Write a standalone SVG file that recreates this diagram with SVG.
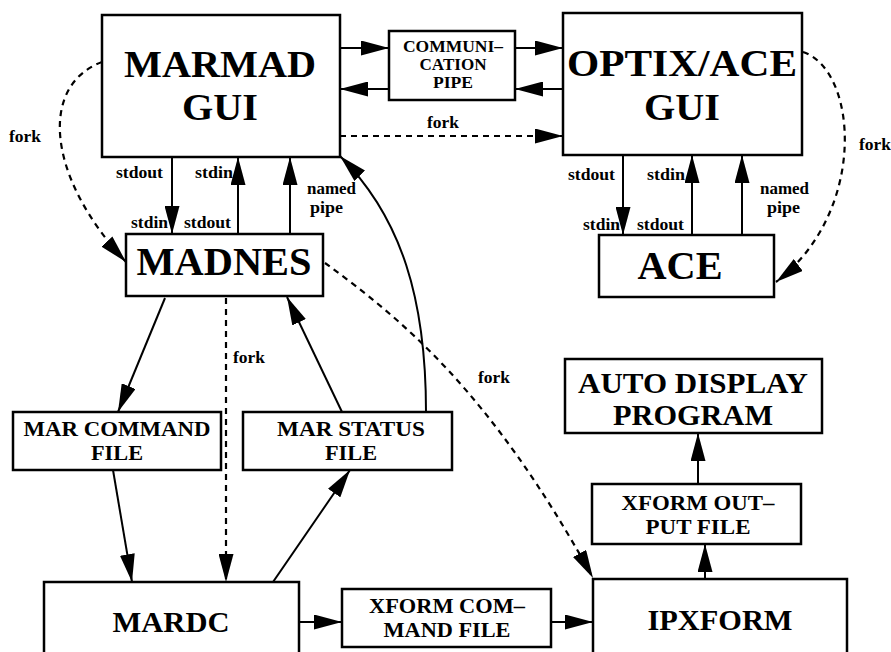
<svg xmlns="http://www.w3.org/2000/svg" width="891" height="652" viewBox="0 0 891 652" font-family="'Liberation Serif', 'Times New Roman', serif" font-weight="bold">
<style>
text{fill:#000}
.box{fill:#fff;stroke:#000;stroke-width:2.5}
.c{text-anchor:middle}
.ln{fill:none;stroke:#000;stroke-width:2;marker-end:url(#ah)}
.dash{fill:none;stroke:#000;stroke-width:2.2;stroke-dasharray:6 5;marker-end:url(#ah)}
</style>
<defs>
<marker id="ah" viewBox="0 0 28 15" markerWidth="28" markerHeight="15" refX="28" refY="7.5" orient="auto" markerUnits="userSpaceOnUse">
<path d="M0,0 L28,7.5 L0,15 z" fill="#000"/>
</marker>
</defs>
<rect width="891" height="652" fill="#fff"/>

<g id="connectors" font-size="17">
<line class="ln" x1="340" y1="48" x2="389" y2="48"/>
<line class="ln" x1="389" y1="89" x2="340" y2="89"/>
<line class="ln" x1="515" y1="48" x2="563" y2="48"/>
<line class="ln" x1="563" y1="89" x2="515" y2="89"/>
<line class="dash" x1="340" y1="136" x2="563" y2="136"/>
<text x="427" y="128" textLength="32" lengthAdjust="spacingAndGlyphs">fork</text>

<path class="dash" d="M102,62 C40,85 45,175 126,262"/>
<text x="9" y="142" textLength="32" lengthAdjust="spacingAndGlyphs">fork</text>

<line class="ln" x1="172" y1="157" x2="172" y2="234"/>
<line class="ln" x1="238" y1="234" x2="238" y2="157"/>
<line class="ln" x1="290" y1="234" x2="290" y2="157"/>
<text x="116" y="178" textLength="47" lengthAdjust="spacingAndGlyphs">stdout</text>
<text x="195" y="178" textLength="38" lengthAdjust="spacingAndGlyphs">stdin</text>
<text x="307" y="194" textLength="49" lengthAdjust="spacingAndGlyphs">named</text>
<text x="310" y="213" textLength="33" lengthAdjust="spacingAndGlyphs">pipe</text>
<text x="131" y="228" textLength="37" lengthAdjust="spacingAndGlyphs">stdin</text>
<text x="184" y="228" textLength="47" lengthAdjust="spacingAndGlyphs">stdout</text>

<line class="ln" x1="623" y1="155" x2="623" y2="235"/>
<line class="ln" x1="692" y1="235" x2="692" y2="155"/>
<line class="ln" x1="742" y1="235" x2="742" y2="155"/>
<text x="568" y="180" textLength="47" lengthAdjust="spacingAndGlyphs">stdout</text>
<text x="647" y="180" textLength="38" lengthAdjust="spacingAndGlyphs">stdin</text>
<text x="760" y="194" textLength="49" lengthAdjust="spacingAndGlyphs">named</text>
<text x="767" y="213" textLength="33" lengthAdjust="spacingAndGlyphs">pipe</text>
<text x="583" y="230" textLength="37" lengthAdjust="spacingAndGlyphs">stdin</text>
<text x="637" y="230" textLength="47" lengthAdjust="spacingAndGlyphs">stdout</text>

<path class="dash" d="M803,52 C858,70 868,212 776,282"/>
<text x="859" y="150" textLength="32" lengthAdjust="spacingAndGlyphs">fork</text>

<line class="ln" x1="165" y1="298" x2="118" y2="412"/>
<line class="ln" x1="342" y1="412" x2="287" y2="297"/>
<line class="dash" x1="226" y1="298" x2="226" y2="582"/>
<text x="233" y="363" textLength="32" lengthAdjust="spacingAndGlyphs">fork</text>

<path class="ln" d="M426,412 C426,300 402,218 340,156"/>

<path class="dash" d="M325,263 C400,318 490,390 593,578"/>
<text x="478" y="383" textLength="32" lengthAdjust="spacingAndGlyphs">fork</text>

<line class="ln" x1="113" y1="470" x2="132" y2="582"/>
<line class="ln" x1="273" y1="582" x2="350" y2="470"/>

<line class="ln" x1="299" y1="622" x2="342" y2="622"/>
<line class="ln" x1="551" y1="622" x2="593" y2="622"/>
<line class="ln" x1="705" y1="579" x2="705" y2="544"/>
<line class="ln" x1="698" y1="484" x2="698" y2="433"/>
</g>

<g id="marmad-gui" font-size="38">
<rect class="box" x="102" y="15" width="238" height="142"/>
<text class="c" x="220" y="77" textLength="192" lengthAdjust="spacingAndGlyphs">MARMAD</text>
<text class="c" x="220" y="120" textLength="76" lengthAdjust="spacingAndGlyphs">GUI</text>
</g>

<g id="communication-pipe" font-size="16">
<rect class="box" x="389" y="31" width="126" height="69"/>
<text class="c" x="453" y="52" textLength="100" lengthAdjust="spacingAndGlyphs">COMMUNI–</text>
<text class="c" x="453" y="70" textLength="67" lengthAdjust="spacingAndGlyphs">CATION</text>
<text class="c" x="453" y="88" textLength="40" lengthAdjust="spacingAndGlyphs">PIPE</text>
</g>

<g id="optix-ace-gui" font-size="38">
<rect class="box" x="563" y="13" width="239" height="142"/>
<text class="c" x="682" y="76" textLength="230" lengthAdjust="spacingAndGlyphs">OPTIX/ACE</text>
<text class="c" x="682" y="120" textLength="76" lengthAdjust="spacingAndGlyphs">GUI</text>
</g>

<g id="madnes" font-size="40">
<rect class="box" x="126" y="234" width="197" height="62"/>
<text class="c" x="224" y="275" textLength="175" lengthAdjust="spacingAndGlyphs">MADNES</text>
</g>

<g id="ace" font-size="40">
<rect class="box" x="599" y="235" width="175" height="62"/>
<text class="c" x="680" y="279" textLength="85" lengthAdjust="spacingAndGlyphs">ACE</text>
</g>

<g id="mar-command-file" font-size="21">
<rect class="box" x="13" y="412" width="208" height="58"/>
<text class="c" x="117" y="436" textLength="187" lengthAdjust="spacingAndGlyphs">MAR COMMAND</text>
<text class="c" x="117" y="460" textLength="52" lengthAdjust="spacingAndGlyphs">FILE</text>
</g>

<g id="mar-status-file" font-size="21">
<rect class="box" x="243" y="412" width="209" height="58"/>
<text class="c" x="351" y="436" textLength="148" lengthAdjust="spacingAndGlyphs">MAR STATUS</text>
<text class="c" x="351" y="460" textLength="52" lengthAdjust="spacingAndGlyphs">FILE</text>
</g>

<g id="auto-display-program" font-size="28.5">
<rect class="box" x="565" y="359" width="257" height="74"/>
<text class="c" x="693" y="393" textLength="230" lengthAdjust="spacingAndGlyphs">AUTO DISPLAY</text>
<text class="c" x="693" y="425" textLength="160" lengthAdjust="spacingAndGlyphs">PROGRAM</text>
</g>

<g id="xform-output-file" font-size="21">
<rect class="box" x="592" y="484" width="209" height="60"/>
<text class="c" x="698" y="510" textLength="153" lengthAdjust="spacingAndGlyphs">XFORM OUT–</text>
<text class="c" x="698" y="534" textLength="105" lengthAdjust="spacingAndGlyphs">PUT FILE</text>
</g>

<g id="mardc" font-size="30">
<rect class="box" x="44" y="582" width="255" height="80"/>
<text class="c" x="171" y="632" textLength="117" lengthAdjust="spacingAndGlyphs">MARDC</text>
</g>

<g id="xform-command-file" font-size="21">
<rect class="box" x="342" y="589" width="209" height="58"/>
<text class="c" x="447" y="613" textLength="156" lengthAdjust="spacingAndGlyphs">XFORM COM–</text>
<text class="c" x="447" y="637" textLength="127" lengthAdjust="spacingAndGlyphs">MAND FILE</text>
</g>

<g id="ipxform" font-size="30">
<rect class="box" x="593" y="579" width="254" height="83"/>
<text class="c" x="720" y="630" textLength="145" lengthAdjust="spacingAndGlyphs">IPXFORM</text>
</g>
</svg>
